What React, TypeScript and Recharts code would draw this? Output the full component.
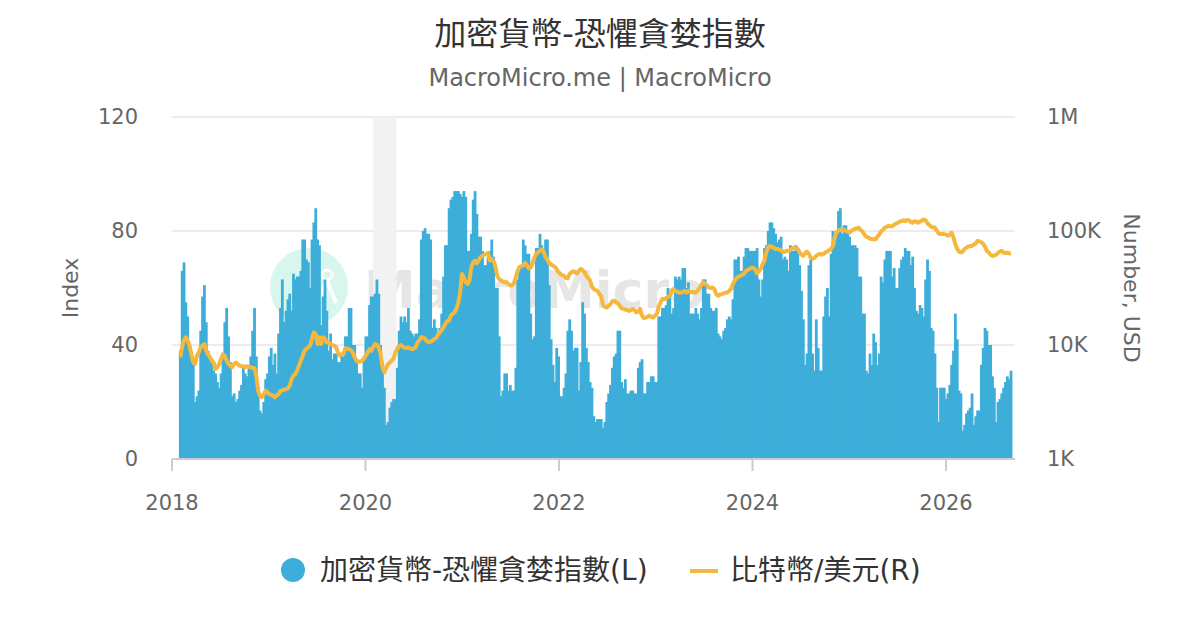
import React from "react";
import {
  ComposedChart,
  Bar,
  Line,
  XAxis,
  YAxis,
  CartesianGrid,
  ReferenceArea,
} from "recharts";

// weekly readings, first week starts 2018-02-01
const FNG_2018 = [38, 66, 69, 55, 50, 40, 36, 33, 20, 22, 24, 45, 57, 61, 48, 38, 36, 35, 31, 30, 27, 25, 30, 35, 48, 53, 43, 34, 22, 23, 20, 21, 24, 26, 32, 30, 29, 32, 36, 45, 53, 36, 25, 17, 16, 20, 28, 30];
const FNG_2019 = [36, 39, 33, 37, 30, 44, 53, 63, 48, 52, 56, 58, 52, 65, 63, 64, 64, 66, 77, 77, 70, 69, 60, 77, 83, 88, 77, 75, 47, 57, 63, 52, 38, 44, 35, 37, 37, 34, 34, 36, 36, 43, 43, 53, 53, 40, 40, 35, 30, 30, 25, 36];
const FNG_2020 = [43, 43, 54, 57, 57, 58, 63, 58, 40, 34, 25, 12, 13, 18, 20, 21, 21, 32, 45, 50, 48, 50, 48, 53, 45, 44, 43, 44, 44, 49, 77, 80, 81, 79, 79, 77, 46, 49, 46, 43, 46, 51, 64, 75, 75, 88, 91, 92, 94, 94, 94, 93, 92];
const FNG_2021 = [94, 92, 73, 73, 79, 91, 94, 86, 78, 78, 73, 68, 68, 71, 73, 77, 71, 60, 60, 43, 22, 24, 30, 30, 24, 26, 24, 24, 32, 63, 67, 67, 77, 75, 72, 72, 51, 42, 43, 74, 74, 79, 75, 73, 77, 77, 61, 42, 33, 27, 39, 36];
const FNG_2022 = [22, 22, 25, 30, 45, 49, 45, 38, 39, 39, 24, 34, 55, 51, 39, 34, 27, 25, 15, 13, 14, 14, 14, 11, 13, 20, 23, 26, 32, 36, 37, 45, 45, 27, 25, 28, 23, 23, 24, 24, 23, 23, 32, 34, 35, 23, 23, 27, 27, 29, 29, 27];
const FNG_2023 = [27, 50, 50, 53, 53, 54, 60, 57, 51, 53, 64, 63, 64, 63, 67, 67, 60, 62, 51, 51, 51, 53, 51, 49, 53, 63, 63, 58, 58, 53, 52, 52, 53, 44, 43, 42, 45, 46, 49, 50, 49, 56, 70, 70, 71, 66, 66, 71, 74, 74, 73, 73];
const FNG_2024 = [73, 73, 74, 63, 57, 63, 74, 75, 80, 83, 83, 81, 79, 76, 77, 78, 70, 71, 70, 66, 75, 73, 73, 75, 73, 68, 59, 49, 33, 37, 68, 70, 37, 31, 49, 39, 31, 31, 50, 57, 60, 50, 72, 80, 75, 80, 87, 88, 79, 82, 82, 80];
const FNG_2025 = [78, 75, 75, 75, 74, 64, 64, 51, 51, 31, 30, 37, 33, 44, 41, 33, 37, 64, 62, 70, 73, 73, 73, 64, 67, 60, 60, 67, 70, 71, 74, 73, 73, 68, 71, 60, 52, 51, 54, 53, 50, 63, 70, 66, 46, 45, 37, 25, 13, 25, 25, 25];
const FNG_2026 = [21, 23, 26, 33, 38, 51, 42, 24, 23, 10, 12, 16, 17, 18, 23, 12, 15, 17, 17, 33, 39, 46, 45, 40, 40, 29, 25, 13, 20, 21, 23, 25, 27, 29, 28, 31];

const BTC_2018 = [7800, 9550, 11000, 11700, 11000, 9860, 8330, 7040, 6810, 8050, 8620, 9550, 9800, 10200, 8900, 8300, 7800, 7300, 7000, 6170, 6380, 6800, 7550, 8300, 8050, 7300, 6800, 6590, 6380, 6800, 7000, 6800, 6600, 6500, 6500, 6400, 6500, 6450, 6400, 6300, 6300, 5380, 3980, 3600, 3480, 3700, 3980, 3850];
const BTC_2019 = [3700, 3650, 3600, 3480, 3600, 3700, 3950, 4000, 4050, 4100, 4150, 4400, 5000, 5380, 5550, 5950, 6590, 7300, 8050, 8900, 9230, 9550, 9860, 11300, 12900, 12500, 10200, 11700, 10200, 11700, 11300, 10500, 10500, 10200, 10000, 9860, 9550, 8620, 8050, 8300, 8300, 9400, 9300, 9200, 9000, 8600, 7800, 7300, 7100, 7200, 7300, 7550];
const BTC_2020 = [8050, 8600, 9200, 8900, 9550, 10200, 10000, 9500, 8400, 6400, 5750, 6300, 6800, 7000, 7300, 7600, 8600, 9200, 9800, 10000, 9600, 9500, 9400, 9500, 9300, 9200, 9300, 9600, 10500, 11000, 11700, 11600, 11400, 10800, 10600, 10700, 10900, 11300, 11500, 12300, 12900, 13500, 14300, 15300, 16200, 16400, 18100, 18800, 19300, 20800, 23600, 29000, 42000];
const BTC_2021 = [39000, 35500, 34300, 36800, 48000, 53000, 55000, 52000, 55000, 59000, 60500, 62000, 63000, 64000, 55000, 57000, 55000, 49000, 40500, 37900, 36800, 36000, 35500, 35500, 34300, 33300, 33500, 35000, 39500, 44500, 48500, 49000, 50000, 52500, 50000, 47000, 47500, 52000, 58500, 63000, 65000, 67000, 69000, 66000, 59000, 56000, 52000, 51000, 49500, 48500, 46500, 43500];
const BTC_2022 = [42000, 41000, 40500, 38700, 38500, 42000, 43500, 44500, 43500, 42500, 45000, 46500, 45500, 43500, 40500, 38700, 36800, 32500, 31000, 30300, 29800, 28000, 27000, 22500, 21600, 21300, 22100, 22800, 24200, 24500, 23600, 23200, 22100, 21000, 20700, 20500, 20200, 19900, 20200, 20700, 20200, 19300, 19600, 20700, 18100, 17200, 17400, 17700, 18100, 17700, 17400, 18100];
const BTC_2023 = [18800, 21600, 23600, 25400, 25200, 25800, 26200, 27000, 30000, 31000, 29800, 29400, 28800, 28800, 29300, 29800, 28800, 29800, 29800, 28900, 29200, 28800, 29800, 31500, 33600, 35500, 34300, 33300, 32000, 31600, 32000, 31000, 28000, 27000, 27600, 28000, 28400, 28800, 28800, 29800, 31000, 34300, 36800, 38700, 39800, 40500, 41400, 42000, 44500, 45500, 46500, 47500];
const BTC_2024 = [47500, 46000, 42500, 44500, 46500, 51000, 55000, 65000, 72000, 74000, 72500, 71500, 69500, 69500, 69000, 68000, 65000, 66000, 67000, 67000, 68000, 70500, 71500, 70500, 69500, 65000, 62000, 60500, 64000, 66000, 63000, 58500, 57000, 58000, 60500, 62000, 63000, 62000, 63000, 65000, 66000, 68000, 69500, 74000, 88000, 97000, 101000, 102000, 104000, 101000, 101000, 98500];
const BTC_2025 = [97000, 100000, 103000, 104000, 106000, 107000, 102000, 99000, 93000, 89000, 88000, 86000, 85000, 84500, 84500, 89000, 93000, 99000, 102000, 107000, 108500, 111000, 110000, 110000, 113000, 116000, 118000, 121000, 122000, 124000, 122000, 125000, 124000, 120000, 118000, 122000, 121000, 118000, 121000, 124000, 126000, 124000, 117000, 113000, 109000, 108000, 107000, 101000, 95000, 94000, 94000, 94000];
const BTC_2026 = [93000, 91000, 92500, 97000, 88000, 77000, 69500, 66000, 65000, 66000, 69500, 71500, 73000, 74000, 74000, 76000, 78000, 82000, 81000, 80000, 77000, 73000, 67000, 65000, 62000, 60500, 61000, 62000, 64000, 66000, 67000, 65000, 64000, 64500, 63500, 64000];

const FNG = [...FNG_2018, ...FNG_2019, ...FNG_2020, ...FNG_2021, ...FNG_2022, ...FNG_2023, ...FNG_2024, ...FNG_2025, ...FNG_2026];
const BTC = [...BTC_2018, ...BTC_2019, ...BTC_2020, ...BTC_2021, ...BTC_2022, ...BTC_2023, ...BTC_2024, ...BTC_2025, ...BTC_2026];

const YEAR_TICKS = [2018, 2020, 2022, 2024, 2026];
const INDEX_TICKS = [0, 40, 80, 120];
const PRICE_TICKS = [1000, 10000, 100000, 1000000];

const START = Date.UTC(2018, 1, 1);
const WEEK = 7 * 86400000;

function toYear(ms: number) {
  const y = new Date(ms).getUTCFullYear();
  const s = Date.UTC(y, 0, 1);
  const e = Date.UTC(y + 1, 0, 1);
  return y + (ms - s) / (e - s);
}

const rows = FNG.map((v, i) => ({
  t: toYear(START + i * WEEK),
  fng: v,
  btc: BTC[i],
}));

const FONT = "'DejaVu Sans', 'Noto Sans CJK TC', sans-serif";
const BAR_COLOR = "#3daed9";
const LINE_COLOR = "#f5b83d";

const priceLabel = (v: number) => (v >= 1000000 ? "1M" : `${v / 1000}K`);

// weekly bars are thinner than a band, so widen each a touch to close the gaps
function SolidBar(props: any) {
  const { x, y, width, height } = props;
  if (!height || height <= 0) return null;
  return <rect x={x - 0.4} y={y} width={width + 0.8} height={height} fill={BAR_COLOR} />;
}

function Backdrop() {
  return (
    <svg
      width={1200}
      height={630}
      style={{ position: "absolute", left: 0, top: 0 }}
      fontFamily={FONT}
    >
      <text x={600} y={45} textAnchor="middle" fontSize={32} fill="#333">
        加密貨幣-恐懼貪婪指數
      </text>
      <text x={600} y={86} textAnchor="middle" fontSize={24} fill="#666">
        MacroMicro.me | MacroMicro
      </text>

      {/* watermark */}
      <circle cx={309} cy={287} r={39} fill="#d6f6ee" />
      <circle cx={327} cy={275} r={5} fill="none" stroke="#fff" strokeWidth={3} />
      <path d="M327 281 L316 306 M327 281 L336 303" stroke="#fff" strokeWidth={4} fill="none" />
      <text x={364} y={308} fontSize={52} fill="#e6e6e6" fontWeight="bold">
        MacroMicro
      </text>

      <text
        x={78}
        y={288}
        textAnchor="middle"
        fontSize={22}
        fill="#666"
        transform="rotate(-90 78 288)"
      >
        Index
      </text>
      <text
        x={1124}
        y={288}
        textAnchor="middle"
        fontSize={22}
        fill="#666"
        transform="rotate(90 1124 288)"
      >
        Number, USD
      </text>

      {/* legend */}
      <circle cx={293} cy={570} r={12} fill={BAR_COLOR} />
      <text x={320} y={580} fontSize={28} fill="#333">
        加密貨幣-恐懼貪婪指數(L)
      </text>
      <line x1={690} y1={571} x2={718} y2={571} stroke={LINE_COLOR} strokeWidth={4} />
      <text x={730} y={580} fontSize={28} fill="#333">
        比特幣/美元(R)
      </text>
    </svg>
  );
}

export default function App() {
  return (
    <div
      style={{
        position: "fixed",
        left: 0,
        top: 0,
        width: 1200,
        height: 630,
        background: "#fff",
        fontFamily: FONT,
      }}
    >
      <Backdrop />
      <div style={{ position: "absolute", left: 0, top: 0 }}>
        <ComposedChart
          width={1200}
          height={630}
          data={rows}
          barCategoryGap={0}
          barGap={0}
          margin={{ top: 117, right: 125, bottom: 141, left: 112 }}
          style={{ fontFamily: FONT }}
        >
          <CartesianGrid
            yAxisId="left"
            vertical={false}
            stroke="#e6e6e6"
            strokeWidth={1.5}
          />
          <XAxis
            dataKey="t"
            type="number"
            domain={[2018, 2026.713]}
            ticks={YEAR_TICKS}
            allowDataOverflow
            height={30}
            stroke="#ccc"
            strokeWidth={2}
            tickSize={12}
            tickMargin={24}
            tick={{ fill: "#666", fontSize: 21 }}
          />
          <YAxis
            yAxisId="left"
            domain={[0, 120]}
            ticks={INDEX_TICKS}
            width={60}
            axisLine={false}
            tickLine={false}
            tickSize={0}
            tickMargin={34}
            tick={{ fill: "#666", fontSize: 21 }}
          />
          <YAxis
            yAxisId="right"
            orientation="right"
            scale="log"
            domain={[1000, 1000000]}
            ticks={PRICE_TICKS}
            tickFormatter={priceLabel}
            width={60}
            axisLine={false}
            tickLine={false}
            tickSize={0}
            tickMargin={32}
            tick={{ fill: "#666", fontSize: 21, textAnchor: "start" }}
          />
          <ReferenceArea
            yAxisId="left"
            x1={2020.08}
            x2={2020.32}
            y1={0}
            y2={120}
            fill="#f2f2f2"
            fillOpacity={1}
            stroke="none"
          />
          <Bar
            yAxisId="left"
            dataKey="fng"
            fill={BAR_COLOR}
            shape={SolidBar}
            isAnimationActive={false}
          />
          <Line
            yAxisId="right"
            dataKey="btc"
            stroke={LINE_COLOR}
            strokeWidth={4}
            strokeLinejoin="round"
            dot={false}
            type="linear"
            isAnimationActive={false}
          />
        </ComposedChart>
      </div>
    </div>
  );
}
